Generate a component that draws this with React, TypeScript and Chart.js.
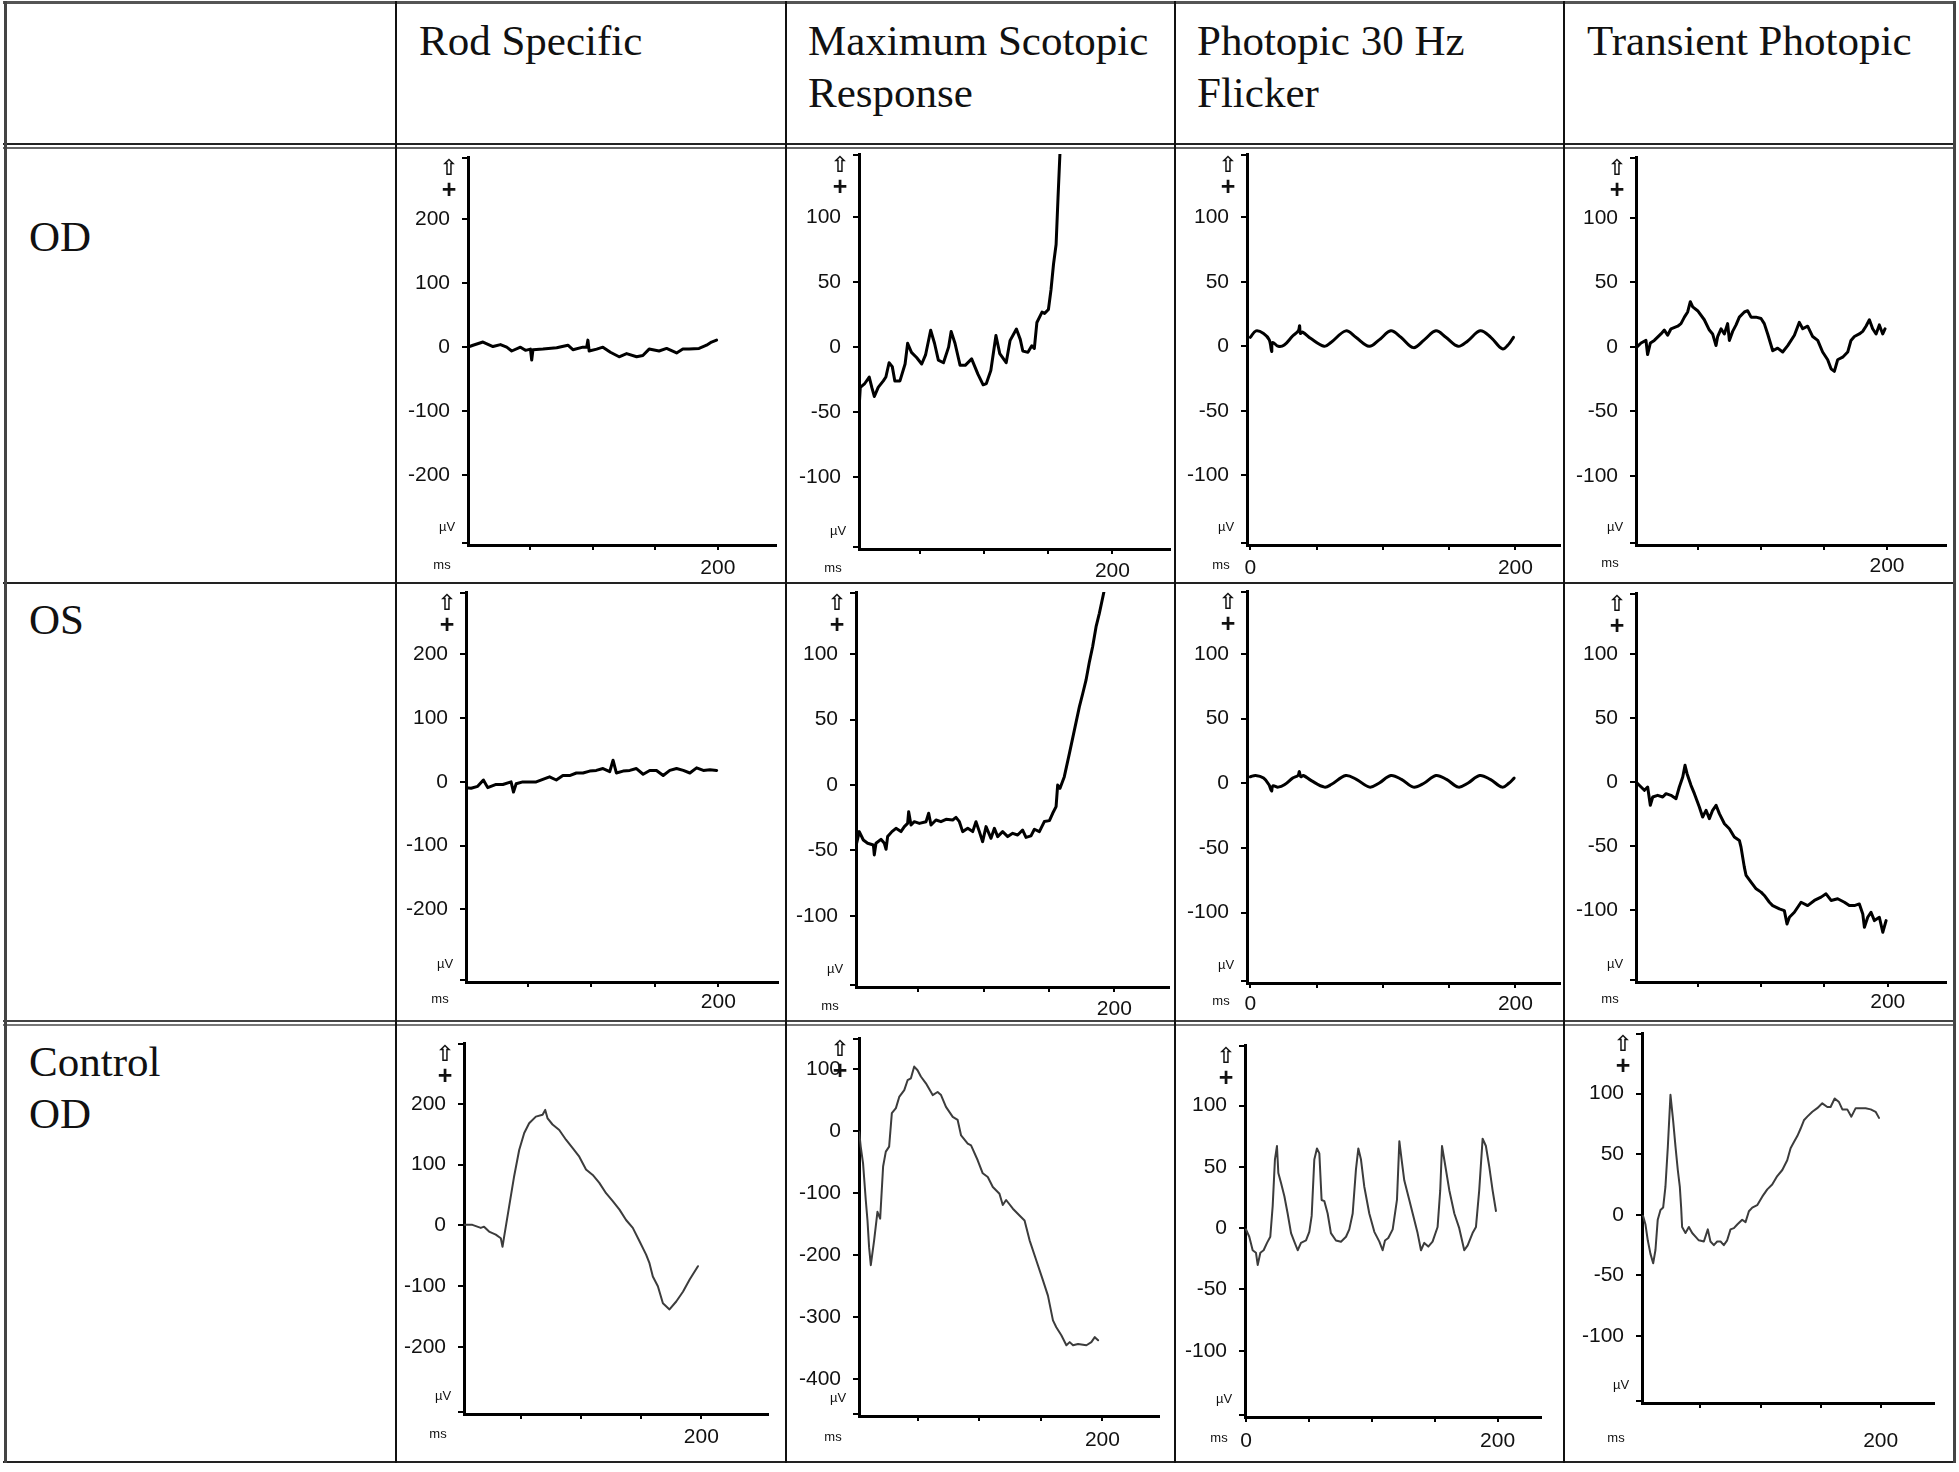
import React, { useEffect, useRef } from 'react';
import { Chart, registerables } from 'chart.js';

Chart.register(...registerables);

const COLUMN_TITLES = ['Rod Specific', 'Maximum Scotopic\nResponse', 'Photopic 30 Hz\nFlicker', 'Transient Photopic'];
const ROW_TITLES = ['OD', 'OS', 'Control\nOD'];

// ---- traces: time (ms) and amplitude (µV) ----
const ROD_OD_MS = [0,4,12,20,26,31,35,42,46,50,51,52,60,71,80,84,92,95,96,97,103,108,114,121,127,135,140,145,153,159,167,172,177,185,191,195,199];
const ROD_OD_UV = [0,3,8,1,4,0,-6,0,-5,-3,-20,-4,-3,-1,3,-4,0,0,11,-6,-3,0,-8,-15,-10,-15,-13,-3,-6,-2,-9,-3,-3,-2,3,8,11];

const MAX_OD_MS = [2,3,6.5,10,12,14,17,21,23,25.5,28,30,34,38,40,43,47,51,54,58,61,64,68,72,74,77,81,85,90,95,99,101.5,105,109,112,117,120,125,128,130,134,137,139,141,145,147,150,152,154,156,157.5,159,161];
const MAX_OD_UV = [-48,-31,-28,-23,-31,-38,-31,-26,-23,-12,-15,-26,-26,-13,3,-4,-8,-13,-6,13,3,-10,-12,0,12,3,-14,-14,-9,-21,-29,-28,-18,9,-5,-12,5,14,6,-3,-4,1,-1,19,27,26,29,44,64,79,115,149,200];

const FLK_OD_MS = [0,4.3,10,14.3,16.1,16.8,21.1,25.6,31.9,36.2,37.2,37.7,39.4,45.7,55.8,60.8,72.1,79.6,89.7,97.2,106,113.6,123.1,131.2,140,147.5,156.8,163.8,173.4,181.4,190.2,195.2,198.5];
const FLK_OD_UV = [7,12,10,5,-4,3,0,1,8,12,16,10,11,6,0,3,12,7,0,5,12,7,-1,5,12,7,0,4,12,7,-2,2,7];

const TRN_OD_MS = [1.6,4.8,8.7,10,12.2,15.3,20.6,23.3,25.9,28.6,33.9,36.5,39.2,41.8,43.9,45.8,49.7,55,59,61.6,64.3,65.6,68.3,70.9,73.5,74.9,77.5,80.2,82.8,86.8,89.4,92.1,96,100,102.6,105.3,109.3,113.2,117.2,121.2,126.5,130.4,133.1,137,141,145,148.9,152.9,155.6,158.2,160.8,164.8,168.8,171.4,174.1,178,180.7,183.3,186,188.6,191.3,193.9,196.6,198.4];
const TRN_OD_UV = [0,3,5,-6,3,5,10,13,9,14,16,18,23,27,35,31,28,21,13,10,1,8,14,10,18,5,12,17,23,27,28,23,23,22,18,10,-3,-1,-4,1,9,19,14,16,8,5,-4,-10,-17,-19,-10,-8,-4,5,8,10,12,16,21,14,10,17,10,14];

const ROD_OS_MS = [1.3,5.3,10.5,15,18.4,25,30.3,36.8,38.7,40.8,46,51.3,56.6,61.8,67.1,72.4,77.6,82.9,88.2,93.4,98.7,103.9,109.2,114.5,117.1,119.7,125,130.3,135.5,140.8,146,151.3,156.6,161.8,167.1,172.4,177.6,182.9,188.2,193.4,198.7];
const ROD_OS_UV = [-9,-10,-7,3,-9,-4,-4,0,-16,-3,0,0,0,4,8,3,10,10,14,14,17,18,21,16,34,14,17,18,21,12,18,18,10,18,21,18,14,22,18,19,18];

const MAX_OS_MS = [2.8,4.8,7.9,11.2,15.6,16.3,17.6,21.4,24,25.3,26.5,29.8,32.9,36.7,39.3,41.8,42.6,44.4,46.9,50.8,55.9,57.9,59.7,63.5,67.3,71.2,76.3,78.8,81.4,83.9,87.8,91.6,94.1,96.7,99.2,101.8,105.6,108.2,110.7,114.5,118.4,122.2,126,129.8,132.4,136.2,138.8,142.6,146.4,150.3,152.8,155.4,156.6,158.4,161.7,165.6,169.4,173.2,175.8,178.3,180.9,183.4,186,188.5,192.3,195];
const MAX_OS_UV = [-44.5,-35.6,-42,-44.5,-45.8,-53.4,-44.5,-41.5,-44.5,-49.1,-39.4,-35.6,-33.1,-35.6,-31.8,-29.3,-20.4,-30.5,-28,-29.3,-28,-21.6,-30.5,-26.7,-28,-26.2,-26.7,-24.7,-28,-35.6,-33.1,-35.6,-28,-35.6,-43.3,-31.8,-40.7,-33.1,-39.4,-35.6,-39.4,-36.9,-38.2,-34.4,-40,-38.9,-33.8,-35.6,-27.9,-27.2,-21.6,-16.5,0,-2.5,6.4,24.2,42,59.8,70,80.2,94.2,105.9,121.1,131.3,149.1,165];

const FLK_OS_MS = [0,4,10,14,16,17,21,26,32,36,37,38,40,46,56,61,72,80,90,97,106,114,123,131,140,148,157,164,173,181,190,195,199];
const FLK_OS_UV = [5,6,4,-1,-6,-2,-3,-1,4,6,9,5,6,2,-3,-1,6,3,-3,0,6,3,-3,0,6,3,-3,0,6,3,-3,0,4];

const TRN_OS_MS = [1.3,5.3,7.9,10.5,12.6,14.5,18.4,22.4,25,28.9,32.9,35.5,38.2,40,41.6,44.7,47.4,51.3,53.9,56.6,59.2,61.8,64.5,67.1,71.1,75,78.9,82.9,84.2,86.8,88.2,92.1,96.1,100,102.6,106.6,109.2,114.5,118.4,120.5,122.4,126.3,131.6,136.8,142.1,147.4,151.3,155.3,160.5,165.8,169.7,173.7,177.6,180.3,181.6,184.2,186.8,189.5,193.4,196.1,198.7];
const TRN_OS_UV = [0,-3.9,-6.5,-3.9,-18.2,-11.7,-10.4,-11.7,-9.1,-10.4,-13,-3.9,3.9,13,6.5,-2.6,-9.1,-19.5,-27.3,-22.1,-28.6,-22.1,-18.2,-24.7,-32.6,-36.5,-42.9,-45.6,-50.8,-66.4,-72.9,-78.1,-83.3,-85.9,-88.5,-93.8,-96.4,-99,-100.3,-110.7,-105.5,-101.6,-93.8,-96.4,-92.4,-89.8,-87.2,-92.4,-91.1,-93.8,-96.4,-96.4,-95.1,-102.9,-113.3,-105.5,-101.6,-108.1,-105.5,-117.2,-108.1];

const ROD_CT_MS = [2.2,9.2,16.2,18.9,23.1,28.7,32.9,34.3,35.7,39.8,44,48.2,52.4,56.5,62.1,67.7,69.9,71.9,76,81.6,87.2,92.8,98.3,103.9,109.5,115,120.6,126.2,131.8,137.3,142.9,148.5,154,156.8,159.6,163.8,168,173.5,179.1,184.7,190.3,197.2];
const ROD_CT_UV = [1,1,-4,-2,-10,-15,-21,-35,-18,31,81,124,152,168,179,182,190,176,166,157,141,127,113,92,83,70,53,40,26,9,-4,-26,-48,-62,-84,-100,-128,-138,-125,-109,-89,-67];

const MAX_CT_MS = [2.2,3.5,5.4,7.6,9,10.3,11.7,14.4,17.1,19.3,21.7,23.9,26.6,28.8,32.1,34.8,38.9,41.6,44.3,47,49.7,52.4,56.5,62,66,68.8,72.8,78.3,82.3,85.1,90.5,93.2,98.6,102.7,106.8,110.9,116.3,119,121.7,127.2,132.6,136.7,140.8,146.2,151.6,155.7,159.8,162.5,166.6,170.7,173.4,176.1,180.2,187,191,193.8,196.5];
const MAX_CT_UV = [-1,-25,-52,-111,-144,-187,-216,-176,-130,-141,-57,-33,-25,29,37,55,66,82,85,104,98,88,77,58,63,58,39,23,18,-7,-20,-23,-47,-68,-74,-90,-101,-119,-111,-125,-136,-144,-176,-208,-240,-265,-305,-316,-329,-345,-340,-345,-343,-345,-340,-332,-337];

const FLK_CT_MS = [0,2.6,5.3,7.9,9.3,11.4,14,16.7,19.3,21.2,23,24.6,25.7,27.8,30.5,33.1,35.8,38.4,41.1,43.7,47.7,50.3,52.2,54.3,56.4,58.3,60.1,62.3,64.9,67.5,71.5,75.5,79.5,82.1,84.8,87.4,89.3,91.4,94,98,102,106,108.6,110.5,113.1,116.6,120,121.9,123.7,125.8,129.8,132.5,136.4,139.1,141.7,144.9,148.3,152.3,154.4,155.8,157.6,161.6,165.6,169.5,173.5,176.2,180.1,182.8,185.4,188.1,190.7,193.4,196,198.7];
const FLK_CT_UV = [-1,-7,-18,-20,-30,-20,-18,-12,-7,18,56,67,45,37,26,12,-4,-11,-18,-12,-10,-3,10,56,65,61,23,22,12,-4,-10,-11,-7,-1,12,48,65,56,34,12,-3,-11,-18,-10,-8,-1,23,71,56,39,23,12,-4,-18,-12,-15,-11,1,31,67,56,31,12,0,-18,-14,-4,1,31,73,67,50,31,14];

const TRN_CT_MS = [2.2,4.2,6.1,8.3,10.6,12.5,14.4,16.7,18.9,20.8,22.8,25,27.2,29.2,31.1,32.8,33.9,34.7,37.5,40.3,43.1,45.8,48.6,52.8,56.1,58.3,61.1,63.9,66.7,69.4,72.2,75,77.8,80.6,84.7,87.5,90.3,93.1,97.2,101.4,105.6,109.7,113.9,118.1,122.2,125,127.8,130.6,133.3,136.1,138.9,143.1,147.2,151.4,155.6,158.3,161.7,165.3,168.1,172.2,175.6,179.2,183.3,187.5,191.7,195.8,198.6];
const TRN_CT_UV = [-1,-8,-21,-32,-40,-29,-4,4,6,23,56,99,78,56,37,23,6,-10,-15,-10,-15,-18,-21,-22,-12,-22,-25,-22,-22,-25,-21,-12,-11,-8,-4,-6,3,6,8,15,21,25,32,37,45,55,60,65,71,78,81,85,88,92,89,89,96,93,87,87,81,88,88,88,87,85,80];

// ---- tick values ----
const Y_TICKS_WIDE = [200, 100, 0, -100, -200];
const Y_TICKS_NARROW = [100, 50, 0, -50, -100];
const Y_TICKS_DEEP = [100, 0, -100, -200, -300, -400];
const X_TICKS = [50, 100, 150, 200];
const X_TICKS_ZERO = [0, 50, 100, 150, 200];
const X_LABELS = [200];
const X_LABELS_ZERO = [0, 200];

// ---- axis ranges per panel [xMin, xMax, yMin, yMax] ----
const RANGES = [
  [0, 246.6, -309, 297],
  [2, 245, -155.4, 148.7],
  [-2.5, 233.6, -153.9, 149],
  [0.8, 246.8, -153.4, 147],
  [1.3, 247, -314, 298],
  [2.3, 241.8, -154.4, 147.6],
  [-2.5, 233.6, -154.5, 148.7],
  [1.3, 246, -156, 147.4],
  [2.2, 255.6, -310, 300],
  [2.1, 246, -459, 150],
  [-0.8, 234.5, -154, 149.4],
  [1.3, 244.4, -155.2, 150],
];

// ---- plot-area boxes on the page (left, top, right, bottom) and label gaps ----
const BOXES = [
  [468, 157, 776, 545, 6],
  [859, 154, 1170, 549, 5],
  [1247, 154, 1560, 545, 6],
  [1636, 157, 1946, 545, 4],
  [466, 592, 778, 982, 3],
  [856, 592, 1169, 987, 5],
  [1247, 591, 1560, 983, 4],
  [1636, 593, 1946, 982, 3],
  [464, 1043, 768, 1414, 6],
  [859, 1038, 1159, 1416, 7],
  [1245, 1045, 1541, 1417, 7],
  [1642, 1033, 1934, 1403, 21],
];

const SERIES = [
  [ROD_OD_MS, ROD_OD_UV], [MAX_OD_MS, MAX_OD_UV], [FLK_OD_MS, FLK_OD_UV], [TRN_OD_MS, TRN_OD_UV],
  [ROD_OS_MS, ROD_OS_UV], [MAX_OS_MS, MAX_OS_UV], [FLK_OS_MS, FLK_OS_UV], [TRN_OS_MS, TRN_OS_UV],
  [ROD_CT_MS, ROD_CT_UV], [MAX_CT_MS, MAX_CT_UV], [FLK_CT_MS, FLK_CT_UV], [TRN_CT_MS, TRN_CT_UV],
];
const Y_TICK_SETS = [
  Y_TICKS_WIDE, Y_TICKS_NARROW, Y_TICKS_NARROW, Y_TICKS_NARROW,
  Y_TICKS_WIDE, Y_TICKS_NARROW, Y_TICKS_NARROW, Y_TICKS_NARROW,
  Y_TICKS_WIDE, Y_TICKS_DEEP, Y_TICKS_NARROW, Y_TICKS_NARROW,
];

const AXIS_W = 70;
const AXIS_H = 54;
const PAD_T = 30;
const PAD_R = 14;
const AXIS_FONT = { family: '"Liberation Sans", Arial, sans-serif', size: 21 };

function makeDecor(msDy: number) {
  return {
    id: 'decor',
    afterDraw(chart: any) {
      const { ctx, chartArea: a } = chart;
      ctx.save();
      ctx.strokeStyle = '#000';
      ctx.lineWidth = 2;
      ctx.beginPath();
      ctx.moveTo(a.left - 6, a.top + 1);
      ctx.lineTo(a.left, a.top + 1);
      ctx.moveTo(a.left - 6, a.bottom - 2);
      ctx.lineTo(a.left, a.bottom - 2);
      ctx.stroke();
      ctx.fillStyle = '#111';
      ctx.textAlign = 'center';
      ctx.textBaseline = 'middle';
      ctx.font = 'bold 22px "DejaVu Sans"';
      ctx.fillText('⇧', a.left - 19, a.top + 12);
      ctx.font = 'bold 25px "Liberation Sans", Arial';
      ctx.fillText('+', a.left - 19, a.top + 34);
      ctx.font = '13px "Liberation Sans", Arial';
      ctx.fillText('µV', a.left - 21, a.bottom - 18);
      ctx.fillText('ms', a.left - 26, a.bottom + msDy);
      ctx.restore();
    },
  };
}

function Panel({ idx }: { idx: number }) {
  const ref = useRef<HTMLCanvasElement>(null);
  const [L, T, R, B, gap] = BOXES[idx];
  const w = R - L + AXIS_W + PAD_R;
  const h = B - T + PAD_T + AXIS_H;
  useEffect(() => {
    const [ms, uv] = SERIES[idx];
    const [xMin, xMax, yMin, yMax] = RANGES[idx];
    const col = idx % 4;
    const row = Math.floor(idx / 4);
    const flicker = col === 2;
    const xTicks = flicker ? X_TICKS_ZERO : X_TICKS;
    const xLabels = flicker ? X_LABELS_ZERO : X_LABELS;
    const yTicks = Y_TICK_SETS[idx];
    const control = row === 2;
    const chart = new Chart(ref.current as HTMLCanvasElement, {
      type: 'line',
      data: {
        datasets: [{
          data: ms.map((t, i) => ({ x: t, y: uv[i] })),
          borderColor: control ? '#3c3c3c' : '#000',
          borderWidth: control ? 2 : 3,
          pointRadius: 0,
          tension: flicker && !control ? 0.35 : 0,
          fill: false,
          borderJoinStyle: 'round',
          borderCapStyle: 'round',
        }],
      },
      options: {
        animation: false,
        responsive: false,
        devicePixelRatio: 1,
        layout: { padding: { top: PAD_T, right: PAD_R, left: 0, bottom: 0 } },
        plugins: { legend: { display: false }, tooltip: { enabled: false } },
        scales: {
          x: {
            type: 'linear',
            position: 'bottom',
            min: xMin,
            max: xMax,
            afterBuildTicks: (s: any) => { s.ticks = xTicks.map((v) => ({ value: v })); },
            afterFit: (s: any) => { s.height = AXIS_H; },
            ticks: {
              autoSkip: false,
              maxRotation: 0,
              padding: gap,
              font: AXIS_FONT,
              color: '#111',
              callback: (v: any) => (xLabels.includes(Number(v)) ? String(v) : ''),
            },
            grid: { drawOnChartArea: false, drawTicks: true, tickLength: 5, color: '#000', lineWidth: 2 },
            border: { display: true, color: '#000', width: 3 },
          },
          y: {
            type: 'linear',
            position: 'left',
            min: yMin,
            max: yMax,
            afterBuildTicks: (s: any) => { s.ticks = yTicks.map((v) => ({ value: v })); },
            afterFit: (s: any) => { s.width = AXIS_W; },
            ticks: {
              autoSkip: false,
              padding: 12,
              font: AXIS_FONT,
              color: '#111',
              callback: (v: any) => String(v),
            },
            grid: { drawOnChartArea: false, drawTicks: true, tickLength: 6, color: '#000', lineWidth: 2 },
            border: { display: true, color: '#000', width: 3 },
          },
        },
      },
      plugins: [makeDecor(gap + 14)],
    } as any);
    return () => chart.destroy();
  }, [idx]);
  return (
    <canvas
      ref={ref}
      width={w}
      height={h}
      style={{ position: 'absolute', left: L - AXIS_W, top: T - PAD_T, width: w, height: h }}
    />
  );
}

const LINES: Array<[number, number, number, number, string]> = [
  // horizontal: x, y, w, h, color
  [3, 1, 1953, 3, '#555'],
  [3, 143, 1953, 2, '#222'],
  [3, 147, 1953, 2, '#666'],
  [3, 582, 1953, 2, '#222'],
  [3, 1020, 1953, 2, '#444'],
  [3, 1024, 1953, 2, '#777'],
  [3, 1461, 1953, 2, '#222'],
  // vertical
  [4, 1, 3, 1462, '#444'],
  [395, 1, 2, 1462, '#111'],
  [785, 1, 2, 1462, '#111'],
  [1174, 1, 2, 1462, '#111'],
  [1563, 1, 2, 1462, '#111'],
  [1953, 1, 3, 1462, '#444'],
];

const SERIF = '"Liberation Serif", "Times New Roman", serif';
const COL_X = [419, 808, 1197, 1587];
const ROW_Y = [211, 594, 1036];

export default function App() {
  const textStyle: React.CSSProperties = {
    position: 'absolute',
    fontFamily: SERIF,
    fontSize: 43,
    lineHeight: '52px',
    color: '#111',
    whiteSpace: 'pre',
  };
  return (
    <div style={{ position: 'absolute', left: 0, top: 0, width: 1959, height: 1472, background: '#fff', overflow: 'hidden' }}>
      {LINES.map(([x, y, w, h, c], i) => (
        <div key={'l' + i} style={{ position: 'absolute', left: x, top: y, width: w, height: h, background: c }} />
      ))}
      {COLUMN_TITLES.map((t, i) => (
        <div key={'c' + i} style={{ ...textStyle, left: COL_X[i], top: 15 }}>{t}</div>
      ))}
      {ROW_TITLES.map((t, i) => (
        <div key={'r' + i} style={{ ...textStyle, left: 29, top: ROW_Y[i] }}>{t}</div>
      ))}
      {SERIES.map((_, i) => (
        <Panel key={'p' + i} idx={i} />
      ))}
    </div>
  );
}
